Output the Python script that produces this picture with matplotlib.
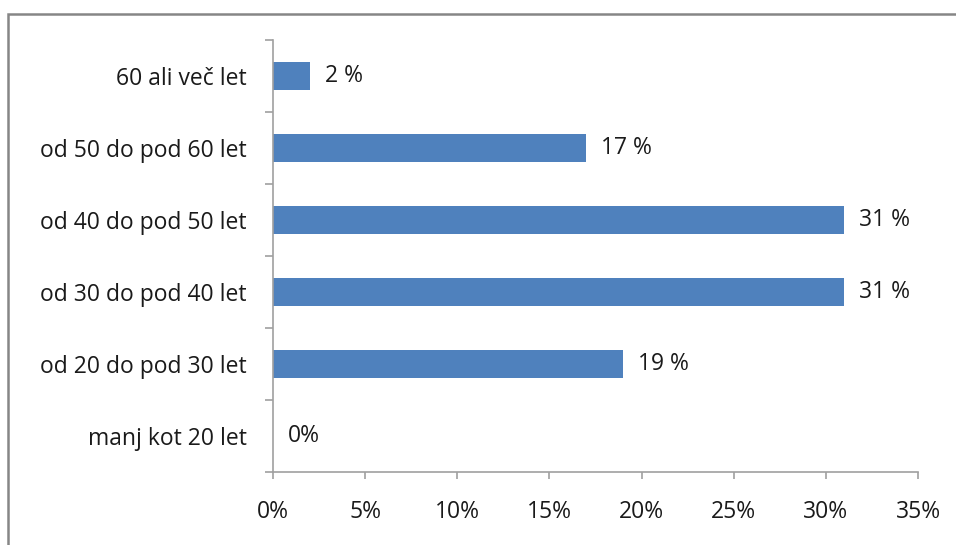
import numpy as np
import matplotlib.pyplot as plt
from matplotlib.patches import Rectangle

kategorije = ["manj kot 20 let", "od 20 do pod 30 let", "od 30 do pod 40 let",
              "od 40 do pod 50 let", "od 50 do pod 60 let", "60 ali več let"]
delezi = [0, 19, 31, 31, 17, 2]
oznake = ["0%", "19 %", "31 %", "31 %", "17 %", "2 %"]
x_ticki = [0, 5, 10, 15, 20, 25, 30, 35]

plt.rcParams['font.family'] = ['Open Sans', 'DejaVu Sans']
fs = 16.5

fig = plt.figure(figsize=(9.56, 5.45), dpi=100)
ax = fig.add_axes([0.2856, 0.1339, 0.6747, 0.7927])

siva = "#a0a0a0"
y = np.arange(len(kategorije)) + 0.5
ax.barh(y, delezi, height=0.39, color="#4f81bd")

for yi, v, t in zip(y, delezi, oznake):
    ax.text(v + 0.8, yi, t, va="center", ha="left", fontsize=fs, color="#1a1a1a")

ax.set_xlim(0, 35)
ax.set_ylim(0, len(kategorije))
ax.set_xticks(x_ticki)
ax.set_xticklabels([f"{v}%" for v in x_ticki])
ax.set_yticks(y)
ax.set_yticklabels(kategorije)
ax.set_yticks(np.arange(len(kategorije) + 1), minor=True)

ax.tick_params(axis="y", which="major", length=0, pad=19, labelsize=fs, labelcolor="#1a1a1a")
ax.tick_params(axis="y", which="minor", length=6, color=siva, width=1.2)
ax.tick_params(axis="x", length=5, color=siva, width=1.2, pad=15, labelsize=fs, labelcolor="#1a1a1a")

for s in ["top", "right"]:
    ax.spines[s].set_visible(False)
for s in ["left", "bottom"]:
    ax.spines[s].set_color(siva)
    ax.spines[s].set_linewidth(1.2)

# okvir okoli grafikona
fig.patches.append(Rectangle((8 / 956, -0.05), 1.2, 1 - 14 / 545 + 0.05,
                             transform=fig.transFigure, fill=False,
                             edgecolor="#868686", linewidth=1.8))

fig.savefig("out.png", dpi=100)
